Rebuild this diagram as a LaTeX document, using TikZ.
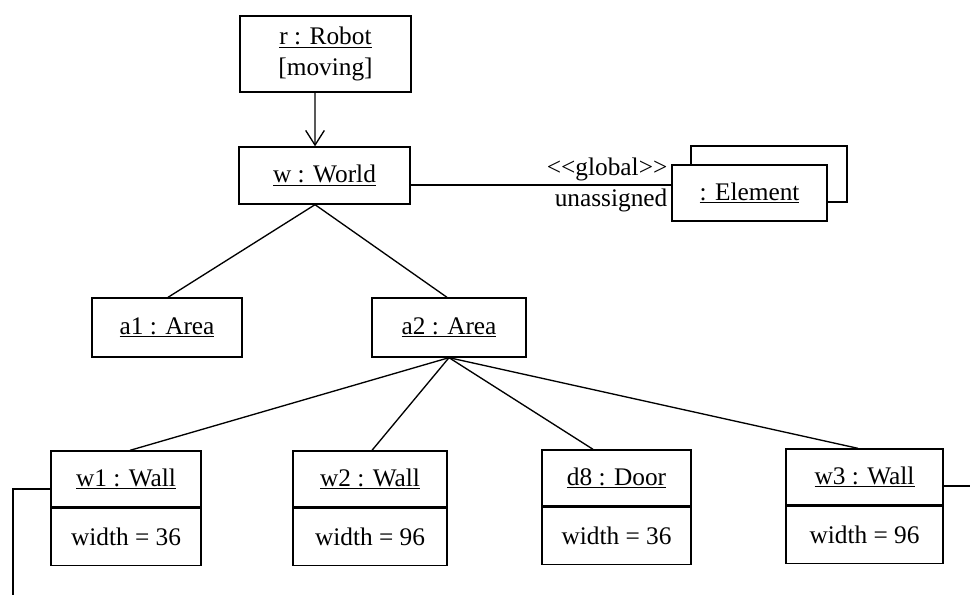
\documentclass[tikz,border=0pt]{standalone}
\usepackage{fontspec}
\setmainfont{Liberation Serif}
\usetikzlibrary{arrows.meta, calc}

\begin{document}
\begin{tikzpicture}[x=0.75pt, y=-0.75pt,
    obj/.style={draw, line width=1pt, inner sep=0pt, align=center,
        font=\fontsize{19}{23}\selectfont},
    conn/.style={line width=1pt},
    lbl/.style={inner sep=2.5pt, font=\fontsize{19}{22}\selectfont}]
    \useasboundingbox (0,0) rectangle (970,595);

    % --- Robot and the world it moves in ---
    \node[obj, minimum width=128.25pt, minimum height=57pt] (r) at (325.5,54)
        {\underline{r : Robot}\\{[moving]}};
    \node[obj, minimum width=128.25pt, minimum height=42.75pt] (w) at (324.5,175.5)
        {\underline{w : World}};
    \draw[conn, -{Straight Barb[length=11pt, width=14pt]}]
        ([xshift=-7.9pt]r.south) -- ([xshift=-7.1pt]w.north);

    % --- Stacked element objects (multi-object) ---
    \node[obj, minimum width=117pt, minimum height=42pt] (elb) at (769,174) {};
    \node[obj, fill=white, minimum width=116.25pt, minimum height=42pt] (el) at (749.5,193)
        {\underline{: Element}};
    \draw[conn] ([yshift=-7.1pt]w.east) coordinate (gw) -- (gw -| el.west)
        node[lbl, pos=1, anchor=south east] {<\kern0pt<global>\kern0pt>}
        node[lbl, pos=1, anchor=north east] {unassigned};

    % --- Areas ---
    \node[obj, minimum width=112.5pt, minimum height=44.25pt] (a1) at (167,327.5)
        {\underline{a1 : Area}};
    \node[obj, minimum width=115.5pt, minimum height=44.25pt] (a2) at (449,327.5)
        {\underline{a2 : Area}};
    \draw[conn] ([xshift=-7.1pt]w.south) -- ([xshift=0.75pt]a1.north);
    \draw[conn] ([xshift=-7.1pt]w.south) -- ([xshift=-1.5pt]a2.north);

    % --- Walls and door: name compartment + attribute compartment ---
    \foreach \n/\x/\y/\bw/\lab/\val in {w1/126/479/112.5pt/w1 : Wall/36,
        w2/370/479/115.5pt/w2 : Wall/96, d8/616.5/478/111.75pt/d8 : Door/36,
        w3/864.5/477/117.75pt/w3 : Wall/96}
    {
        \node[obj, minimum width=\bw, minimum height=42pt] (\n) at (\x,\y) {\underline{\lab}};
        \node[obj, minimum width=\bw, minimum height=42.75pt, anchor=north] (\n v)
            at (\n.south) {width = \val};
    }
    \draw[conn] (a2.south) -- ([xshift=3pt]w1.north);
    \draw[conn] (a2.south) -- ([xshift=1.5pt]w2.north);
    \draw[conn] (a2.south) -- ([xshift=-17.6pt]d8.north);
    \draw[conn] (a2.south) -- ([xshift=-4.9pt]w3.north);

    % --- Links running off the page ---
    \coordinate (w1out) at (13,596);
    \draw[conn] ([yshift=-7.5pt]w1.west) -| (w1out);
    \draw[conn] ([yshift=-6.75pt]w3.east) -- ++(30,0);
\end{tikzpicture}
\end{document}
